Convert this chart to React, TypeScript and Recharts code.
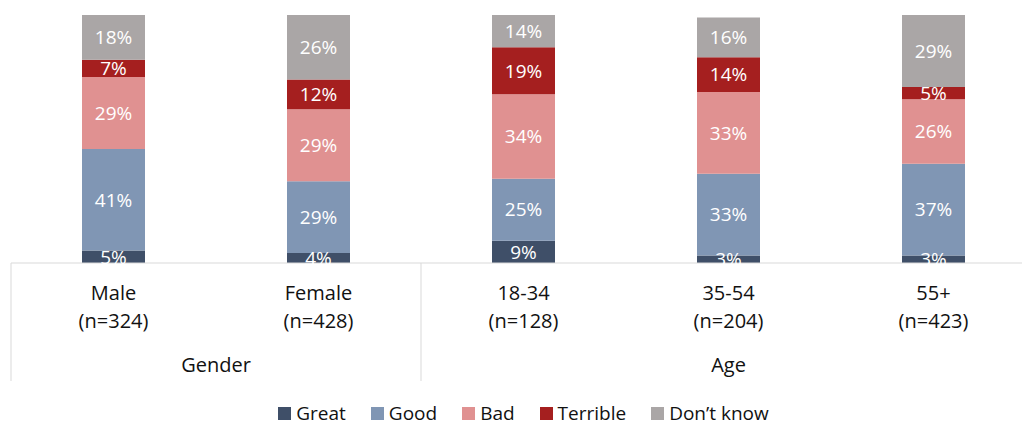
import { Bar, BarChart, LabelList, Legend, XAxis, YAxis } from "recharts";

// survey breakdown by respondent group, in percent
const categories = ["Male", "Female", "18-34", "35-54", "55+"];
const sampleSizes = ["(n=324)", "(n=428)", "(n=128)", "(n=204)", "(n=423)"];
const groups = ["Gender", "Gender", "Age", "Age", "Age"];

const great = [5, 4, 9, 3, 3];
const good = [41, 29, 25, 33, 37];
const bad = [29, 29, 34, 33, 26];
const terrible = [7, 12, 19, 14, 5];
const dontKnow = [18, 26, 14, 16, 29];

const series = [
  { key: "great", name: "Great", color: "#3f4f68" },
  { key: "good", name: "Good", color: "#8096b4" },
  { key: "bad", name: "Bad", color: "#e09191" },
  { key: "terrible", name: "Terrible", color: "#a51f1f" },
  { key: "dontKnow", name: "Don\u2019t know", color: "#aaa6a6" },
];

const data = categories.map((name, i) => ({
  name,
  great: great[i],
  good: good[i],
  bad: bad[i],
  terrible: terrible[i],
  dontKnow: dontKnow[i],
}));

const FONT = "'Open Sans', sans-serif";
const LINE = "#d9d9d9";
const AXIS_HEIGHT = 118;

// two-line category label plus group divider and group name under each group
function CategoryTick(props: any) {
  const { x, y, payload } = props;
  const i = categories.indexOf(payload.value);
  const half = payload.offset ?? 0;
  const group = groups[i];
  const first = i === 0 || groups[i - 1] !== group;
  const members = groups.filter((g) => g === group).length;
  return (
    <g fontFamily={FONT} fontSize={20} fill="#111">
      {first && (
        <line x1={x - half} x2={x - half} y1={y} y2={y + AXIS_HEIGHT} stroke={LINE} />
      )}
      <text x={x} y={y + 37} textAnchor="middle">
        {categories[i]}
      </text>
      <text x={x} y={y + 65} textAnchor="middle">
        {sampleSizes[i]}
      </text>
      {first && (
        <text x={x - half + members * half} y={y + 109} textAnchor="middle">
          {group}
        </text>
      )}
    </g>
  );
}

function LegendContent(props: any) {
  const items = [...(props.payload || [])].sort(
    (a: any, b: any) =>
      series.findIndex((s) => s.name === a.value) - series.findIndex((s) => s.name === b.value)
  );
  return (
    <div
      style={{
        display: "flex",
        justifyContent: "center",
        alignItems: "center",
        gap: 25,
        fontFamily: FONT,
        fontSize: 19,
        lineHeight: "26px",
        color: "#111",
      }}
    >
      {items.map((p: any) => (
        <span key={p.value} style={{ display: "flex", alignItems: "center" }}>
          <span
            style={{ width: 13, height: 13, background: p.color, marginRight: 5, display: "inline-block" }}
          />
          <span>{p.value}</span>
        </span>
      ))}
    </div>
  );
}

export default function App() {
  return (
    <div
      style={{
        position: "absolute",
        left: 0,
        top: 0,
        width: 1022,
        height: 426,
        overflow: "hidden",
        background: "#fff",
        fontFamily: FONT,
      }}
    >
      <BarChart
        width={1036}
        height={426}
        data={data}
        barSize={63}
        margin={{ top: 15, right: 0, left: 11, bottom: 45 }}
      >
        <YAxis hide type="number" domain={[0, 100]} allowDataOverflow />
        <XAxis
          dataKey="name"
          height={AXIS_HEIGHT}
          interval={0}
          tickLine={false}
          tickSize={0}
          tickMargin={0}
          axisLine={{ stroke: LINE }}
          tick={<CategoryTick />}
        />
        <Legend
          layout="horizontal"
          verticalAlign="middle"
          align="center"
          content={<LegendContent />}
          wrapperStyle={{ top: 400, left: 11, width: 1025, height: 26 }}
        />
        {series.map((s) => (
          <Bar
            key={s.key}
            dataKey={s.key}
            name={s.name}
            stackId="a"
            fill={s.color}
            isAnimationActive={false}
          >
            <LabelList
              dataKey={s.key}
              position="center"
              fill="#fff"
              stroke="none"
              fontSize={19}
              fontFamily={FONT}
              formatter={(v: any) => `${v}%`}
            />
          </Bar>
        ))}
      </BarChart>
    </div>
  );
}
